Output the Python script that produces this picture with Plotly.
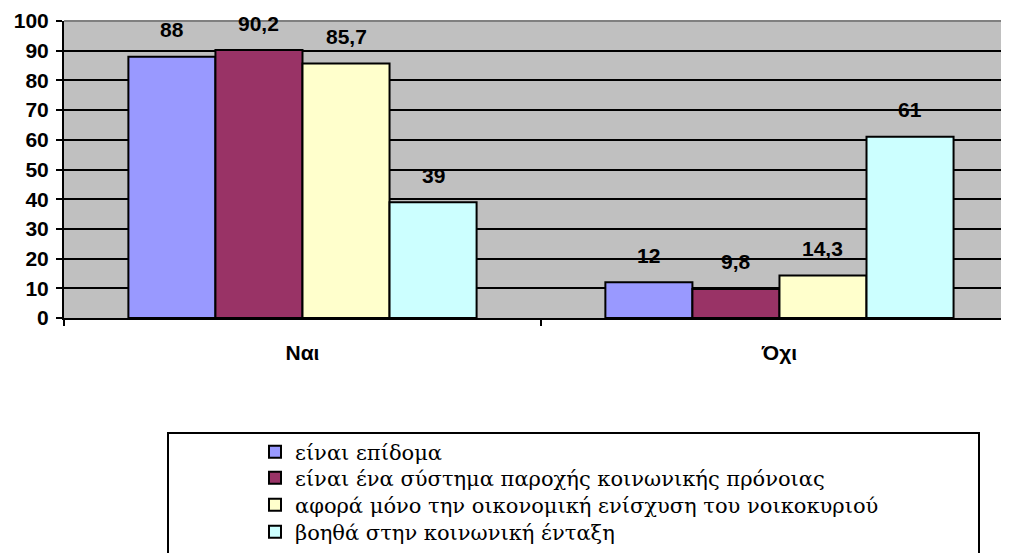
import plotly.graph_objects as go

categories = ["Ναι", "Όχι"]
series_names = [
    "είναι επίδομα",
    "είναι ένα σύστημα παροχής κοινωνικής πρόνοιας",
    "αφορά μόνο την οικονομική ενίσχυση του νοικοκυριού",
    "βοηθά στην κοινωνική ένταξη",
]
values_epidoma = [88, 12]
values_systima = [90.2, 9.8]
values_oikonomiki = [85.7, 14.3]
values_entaxi = [39, 61]
series_values = [values_epidoma, values_systima, values_oikonomiki, values_entaxi]
colors = ["#9999FF", "#993366", "#FFFFCC", "#CCFFFF"]
y_ticks = list(range(0, 101, 10))

W, H = 1009, 553
OFF = 8  # page body margin
ML, MR, MT, MB = 56, 0, 13, 243
BARGAP = 0.27
xpos = list(range(len(categories)))
SANS = "Liberation Sans"
SERIF = "DejaVu Serif"

legend_ids = ["legend", "legend2", "legend3", "legend4"]
row_y = [452, 478, 505, 532]

px2x = lambda p: (p - OFF - ML) / (W - ML - MR)
px2y = lambda p: (H - MB - (p - OFF)) / (H - MT - MB)

fig = go.Figure()
for name, vals, col, lg in zip(series_names, series_values, colors, legend_ids):
    fig.add_trace(go.Bar(
        x=xpos, y=vals, name=name, legend=lg,
        marker=dict(color=col, line=dict(color="black", width=2)),
    ))

# data labels
n = len(series_values)
bw = (1 - BARGAP) / n
for j, vals in enumerate(series_values):
    for i, v in enumerate(vals):
        fig.add_annotation(
            x=xpos[i] + (j - (n - 1) / 2) * bw, y=v,
            text=f"<b>{v:g}</b>".replace(".", ","), showarrow=False,
            yanchor="middle", yshift=27,
            font=dict(family=SANS, size=21, color="black"),
        )

# legend frame
fig.add_shape(type="rect", xref="paper", yref="paper",
              x0=px2x(168), x1=px2x(979), y0=px2y(433), y1=px2y(620),
              line=dict(color="black", width=2), fillcolor="rgba(0,0,0,0)")
# top border of plot area
fig.add_shape(type="line", xref="paper", yref="paper", x0=0, x1=1, y0=1, y1=1,
              line=dict(color="#808080", width=2))

legends = {}
for lg, ry in zip(legend_ids, row_y):
    legends[lg] = dict(
        x=px2x(255), y=px2y(ry), xanchor="left", yanchor="middle",
        font=dict(family=SERIF, size=21, color="black"),
        bgcolor="rgba(0,0,0,0)", borderwidth=0,
    )

fig.update_layout(
    width=W, height=H,
    margin=dict(l=ML, r=MR, t=MT, b=MB, autoexpand=False),
    paper_bgcolor="white", plot_bgcolor="#C0C0C0",
    barmode="group", bargap=BARGAP, bargroupgap=0,
    showlegend=True,
    **legends,
    xaxis=dict(
        range=[-0.5, 1.498], tickmode="array", tickvals=xpos,
        ticktext=[f"<b>{c}</b>" for c in categories],
        ticks="", showgrid=False, zeroline=False,
        showline=True, linecolor="black", linewidth=2,
        ticklabelstandoff=15,
        tickfont=dict(family=SANS, size=21, color="black"),
        minor=dict(tickmode="array", tickvals=[-0.5, 0.5], ticks="outside",
                   ticklen=6, tickwidth=2, tickcolor="black", showgrid=False),
    ),
    yaxis=dict(
        range=[0, 100], tickmode="array", tickvals=y_ticks,
        ticktext=[f"<b>{t}</b>" for t in y_ticks],
        ticks="outside", ticklen=6, tickwidth=2, tickcolor="black",
        showgrid=True, gridcolor="black", gridwidth=2, zeroline=False,
        showline=True, linecolor="black", linewidth=2,
        ticklabelstandoff=3,
        tickfont=dict(family=SANS, size=21, color="black"),
    ),
)

fig.write_html("out.html")
